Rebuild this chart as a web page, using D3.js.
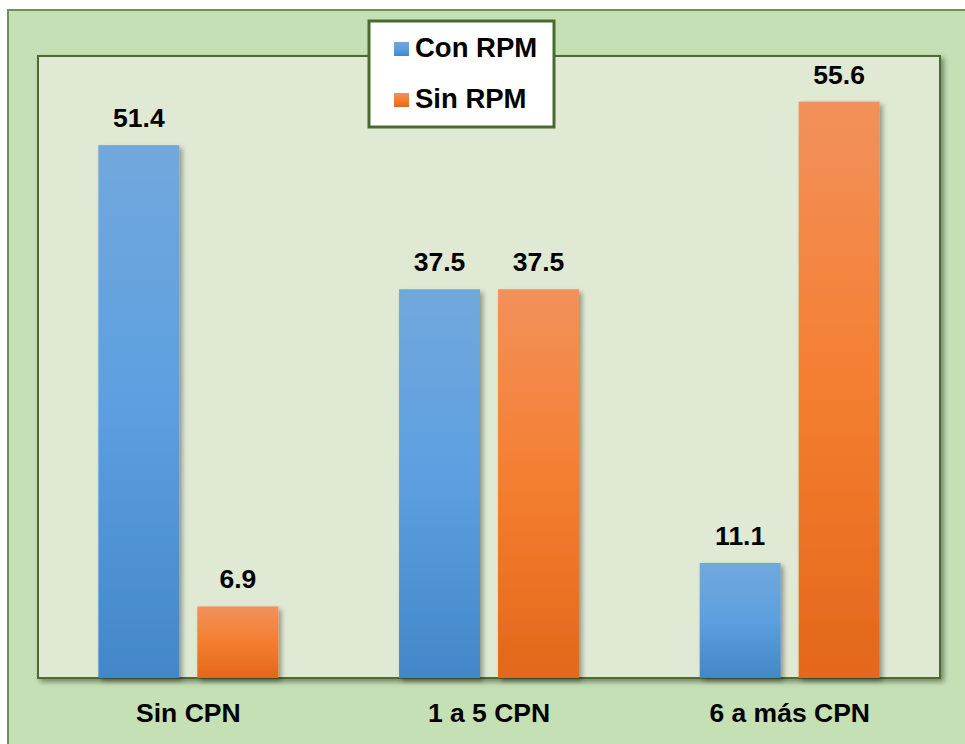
<!DOCTYPE html>
<html>
<head>
<meta charset="utf-8">
<script src="https://cdn.jsdelivr.net/npm/d3@7/dist/d3.min.js"></script>
<style>
  html, body { margin: 0; padding: 0; background: #ffffff; }
  svg { display: block; }
  text { font-family: "Liberation Sans", Arial, sans-serif; font-weight: bold; fill: #000; }
</style>
</head>
<body>
<svg id="chart" width="965" height="744"></svg>
<script>
const categories = ["Sin CPN", "1 a 5 CPN", "6 a más CPN"];
const seriesNames = ["Con RPM", "Sin RPM"];
const conRPM = [51.4, 37.5, 11.1];
const sinRPM = [6.9, 37.5, 55.6];
const yMax = 60;

const svg = d3.select("#chart");
const defs = svg.append("defs");

function grad(id, stops) {
  const g = defs.append("linearGradient").attr("id", id)
    .attr("x1", 0).attr("y1", 0).attr("x2", 0).attr("y2", 1);
  stops.forEach(s => g.append("stop").attr("offset", s[0]).attr("stop-color", s[1]));
}
grad("gBlue", [[0, "#71a8dc"], [0.5, "#5c9fe0"], [1, "#4287c9"]]);
grad("gOrange", [[0, "#f2915b"], [0.5, "#f47e30"], [1, "#e4671b"]]);

const sh = defs.append("filter").attr("id", "shadow")
  .attr("x", "-20%").attr("y", "-20%").attr("width", "140%").attr("height", "140%");
sh.append("feDropShadow").attr("dx", 3).attr("dy", 3).attr("stdDeviation", 2.5)
  .attr("flood-color", "#000").attr("flood-opacity", 0.35);

const sh2 = defs.append("filter").attr("id", "shadow2")
  .attr("x", "-5%").attr("y", "-5%").attr("width", "110%").attr("height", "110%");
sh2.append("feDropShadow").attr("dx", 3).attr("dy", 3).attr("stdDeviation", 2.5)
  .attr("flood-color", "#000").attr("flood-opacity", 0.4);

svg.append("rect")
  .attr("x", 8).attr("y", 10).attr("width", 975).attr("height", 760)
  .attr("fill", "#c5e0b4").attr("stroke", "#6f8f58").attr("stroke-width", 2);

const plot = { left: 38, right: 940, top: 56, bottom: 678 };

svg.append("rect")
  .attr("x", plot.left).attr("y", plot.top)
  .attr("width", plot.right - plot.left).attr("height", plot.bottom - plot.top)
  .attr("fill", "#dfe9d3").attr("stroke", "#4e6b30").attr("stroke-width", 2)
  .attr("filter", "url(#shadow2)");

const x0 = d3.scaleBand().domain(categories).range([plot.left, plot.right]).padding(0);
const x1 = d3.scaleBand().domain(seriesNames).range([0, x0.bandwidth()])
  .paddingInner(0.182).paddingOuter(0.61);
const y = d3.scaleLinear().domain([0, yMax]).range([plot.bottom, plot.top]);

const data = [];
categories.forEach((c, i) => {
  data.push({ cat: c, s: "Con RPM", v: conRPM[i], fill: "url(#gBlue)" });
  data.push({ cat: c, s: "Sin RPM", v: sinRPM[i], fill: "url(#gOrange)" });
});

const g = svg.append("g");
g.selectAll("rect.bar").data(data).enter().append("rect")
  .attr("class", "bar")
  .attr("x", d => x0(d.cat) + x1(d.s))
  .attr("y", d => y(d.v))
  .attr("width", x1.bandwidth())
  .attr("height", d => y(0) - y(d.v))
  .attr("fill", d => d.fill)
  .attr("filter", "url(#shadow)");

g.selectAll("text.val").data(data).enter().append("text")
  .attr("class", "val")
  .attr("x", d => x0(d.cat) + x1(d.s) + x1.bandwidth() / 2)
  .attr("y", d => y(d.v) - 18)
  .attr("text-anchor", "middle")
  .attr("font-size", 26.5)
  .text(d => d.v.toFixed(1));

const xAxis = d3.axisBottom(x0).tickSize(0).tickPadding(0);
const axG = svg.append("g").attr("transform", `translate(0,${plot.bottom})`).call(xAxis);
axG.select(".domain").remove();
axG.selectAll("text")
  .attr("dy", null)
  .attr("y", 44)
  .attr("font-size", 26.5)
  .style("font-family", '"Liberation Sans", Arial, sans-serif')
  .style("font-weight", "bold")
  .attr("fill", "#000");

const lg = svg.append("g");
lg.append("rect").attr("x", 369).attr("y", 21).attr("width", 185).attr("height", 106)
  .attr("fill", "#ffffff").attr("stroke", "#4a6b2e").attr("stroke-width", 3);
const legendFills = ["url(#gBlue)", "url(#gOrange)"];
seriesNames.forEach((n, i) => {
  const yy = 57 + i * 51;
  lg.append("rect").attr("x", 394).attr("y", yy - 15).attr("width", 15).attr("height", 14)
    .attr("fill", legendFills[i]);
  lg.append("text").attr("x", 415).attr("y", yy).attr("font-size", 27.5).text(n);
});
</script>
</body>
</html>
